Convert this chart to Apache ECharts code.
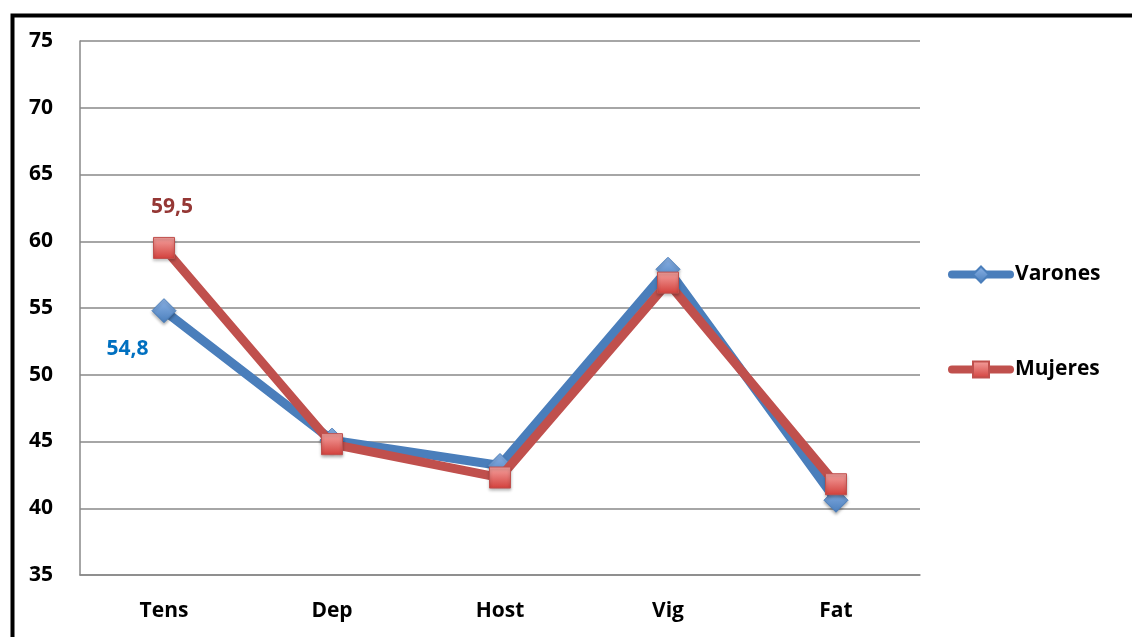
<!DOCTYPE html>
<html><head><meta charset="utf-8">
<script src="https://cdn.jsdelivr.net/npm/echarts@6/dist/echarts.min.js"></script>
<style>html,body{margin:0;padding:0;background:#fff}#c{width:1132px;height:637px}</style>
</head><body><div id="c"></div>
<script>
const categories = ['Tens', 'Dep', 'Host', 'Vig', 'Fat'];
const varones = [54.8, 45.1, 43.2, 57.9, 40.6];
const mujeres = [59.5, 44.8, 42.3, 56.9, 41.8];
const yTicks = { min: 35, max: 75, interval: 5 };
const seriesNames = ['Varones', 'Mujeres'];

const FONT = 'Open Sans';
const FS = 21;
const chart = echarts.init(document.getElementById('c'));

function grad(top, bottom) {
  return new echarts.graphic.LinearGradient(0, 0, 0, 1, [
    { offset: 0, color: top }, { offset: 1, color: bottom }
  ]);
}

const varData = varones.map((v, i) => i === 0 ? {
  value: v,
  label: { show: true, formatter: '54,8', position: 'left', offset: [2, 38],
           color: '#0070C0', fontFamily: FONT, fontWeight: 'bold', fontSize: FS }
} : v);
const mujData = mujeres.map((v, i) => i === 0 ? {
  value: v,
  label: { show: true, formatter: '59,5', position: 'top', offset: [8, -14],
           color: '#953735', fontFamily: FONT, fontWeight: 'bold', fontSize: FS }
} : v);

chart.setOption({
  animation: false,
  backgroundColor: '#fff',
  graphic: [{
    type: 'rect', left: 10, top: 13, z: 100, silent: true,
    shape: { width: 1200, height: 700 },
    style: { fill: 'none', stroke: '#000', lineWidth: 4 }
  }],
  grid: { left: 80, right: 212, top: 41, bottom: 62, containLabel: false },
  legend: {
    orient: 'vertical', left: 943, top: 259, itemGap: 74,
    itemWidth: 58, itemHeight: 20,
    lineStyle: { width: 8, cap: 'round' },
    textStyle: { fontFamily: FONT, fontWeight: 'bold', fontSize: FS, color: '#000' },
    data: seriesNames
  },
  xAxis: {
    type: 'category', data: categories, boundaryGap: true,
    axisLine: { show: true, lineStyle: { color: '#888', width: 1.5 } },
    axisTick: { show: false },
    axisLabel: { fontFamily: FONT, fontWeight: 'bold', fontSize: FS, color: '#000', margin: 26 }
  },
  yAxis: {
    type: 'value', min: yTicks.min, max: yTicks.max, interval: yTicks.interval,
    axisLine: { show: true, lineStyle: { color: '#888', width: 1.5 } },
    axisTick: { show: false },
    splitLine: { lineStyle: { color: '#888', width: 1.5 } },
    axisLabel: { fontFamily: FONT, fontWeight: 'bold', fontSize: FS, color: '#000', margin: 27 }
  },
  series: [
    {
      name: seriesNames[0], type: 'line', data: varData,
      symbol: 'diamond', symbolSize: 24,
      lineStyle: { color: '#4A7EBB', width: 9 },
      itemStyle: { color: grad('#8DB4E8', '#4A7EBB'), borderColor: '#4A7EBB', borderWidth: 1,
                   shadowColor: 'rgba(0,0,0,0.3)', shadowBlur: 3, shadowOffsetY: 2 },
      z: 2
    },
    {
      name: seriesNames[1], type: 'line', data: mujData,
      symbol: 'rect', symbolSize: 21,
      lineStyle: { color: '#C0504D', width: 9 },
      itemStyle: { color: grad('#F5A3A0', '#D23F3B'), borderColor: '#C0504D', borderWidth: 1,
                   shadowColor: 'rgba(0,0,0,0.3)', shadowBlur: 3, shadowOffsetY: 2 },
      z: 3
    }
  ]
});
</script></body></html>
